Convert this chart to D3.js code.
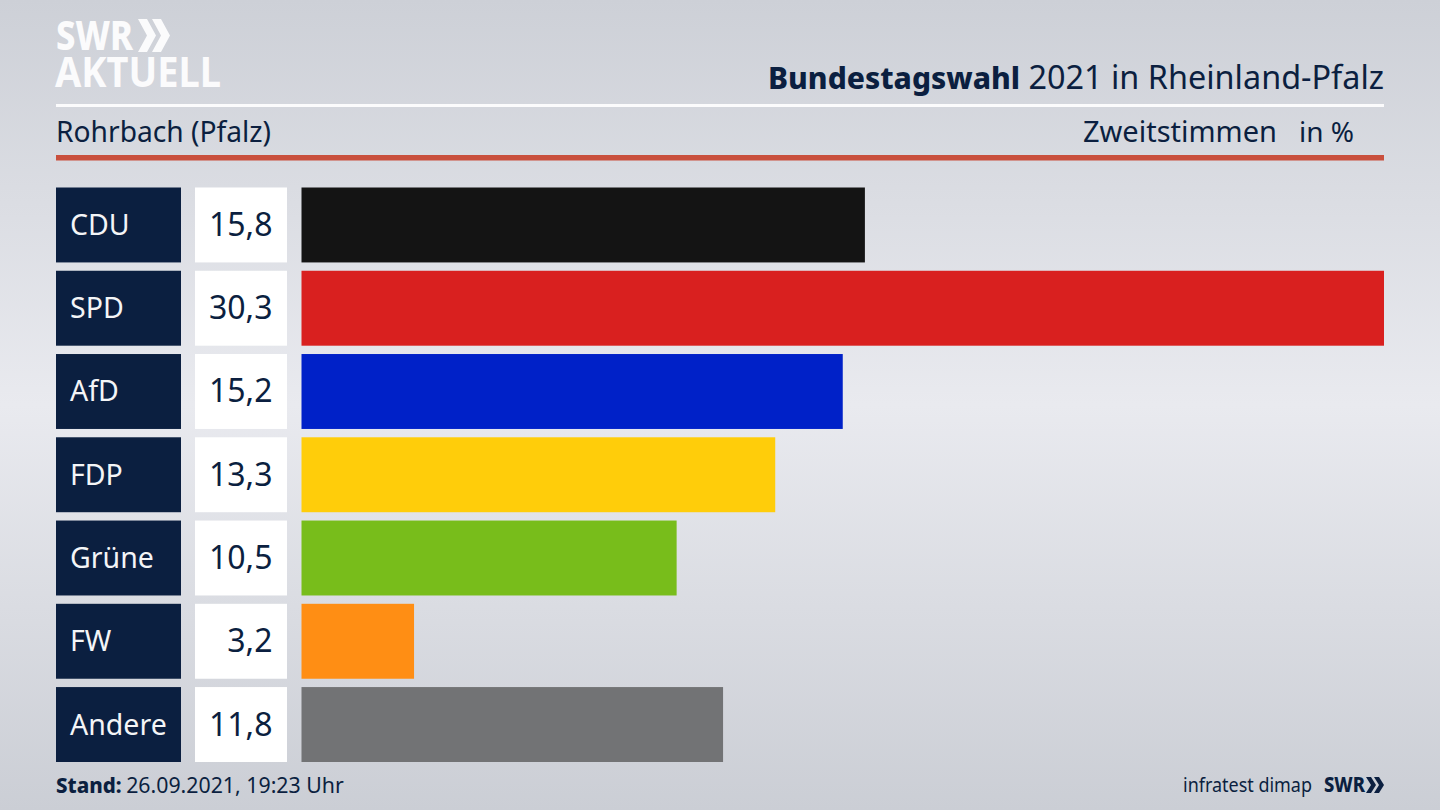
<!DOCTYPE html>
<html><head><meta charset="utf-8">
<script src="https://cdn.jsdelivr.net/npm/d3@7/dist/d3.min.js"></script>
<style>html,body{margin:0;padding:0;background:#dcdee3;overflow:hidden}svg{display:block}text{font-family:"Noto Sans",sans-serif}</style>
</head><body><svg id="c" width="1440" height="810"></svg>
<script>
const parties=["CDU","SPD","AfD","FDP","Grüne","FW","Andere"];
const values=[15.77,30.3,15.15,13.26,10.5,3.15,11.8];
const valueLabels=["15,8","30,3","15,2","13,3","10,5","3,2","11,8"];
const colors=["#141414","#d9201f","#0021c8","#ffcd0a","#78bd1b","#ff8e14","#727375"];
const navy="#0b1f40";
const svg=d3.select("#c");
const defs=svg.append("defs");
const g=defs.append("linearGradient").attr("id","bg").attr("x1",0).attr("y1",0).attr("x2",0).attr("y2",1);
[[0,"#cdd0d7"],[0.5,"#e9eaef"],[1,"#cbced5"]].forEach(s=>g.append("stop").attr("offset",s[0]).attr("stop-color",s[1]));
svg.append("rect").attr("width",1440).attr("height",810).attr("fill","url(#bg)");

const txt=(x,y,s,size,fill,anchor,weight)=>svg.append("text").attr("x",x).attr("y",y).attr("font-size",size).attr("fill",fill).attr("text-anchor",anchor||"start").attr("font-weight",weight||400).text(s);
const chev=(x,y,h,w,t,step,fill)=>{
  [0,1].forEach(i=>{const o=x+i*step;
    svg.append("path").attr("fill",fill).attr("d",`M${o} ${y}L${o+t} ${y}L${o+t+w} ${y+h/2}L${o+t} ${y+h}L${o} ${y+h}L${o+w} ${y+h/2}Z`);});
};
txt(56,50,"SWR",41,"#fbfbfc","start",800).attr("textLength",77).attr("lengthAdjust","spacingAndGlyphs");
chev(138,19,33,9,9,14,"#fbfbfc");
txt(55,87,"AKTUELL",42,"#fbfbfc","start",700).attr("textLength",166).attr("lengthAdjust","spacingAndGlyphs");

const title=svg.append("text").attr("x",1384).attr("y",89).attr("text-anchor","end").attr("font-size",32.4).attr("fill",navy);
title.append("tspan").attr("font-weight",800).attr("font-size",30).text("Bundestagswahl");
title.append("tspan").text(" 2021 in Rheinland-Pfalz");

svg.append("rect").attr("x",56).attr("y",104).attr("width",1328).attr("height",3).attr("fill","#fbfbfc");
svg.append("rect").attr("x",56).attr("y",155).attr("width",1328).attr("height",5.5).attr("fill","#c94f3d");
txt(56,142,"Rohrbach (Pfalz)",28.2,navy);
txt(1277,142,"Zweitstimmen",29,navy,"end");
txt(1354,142,"in %",28,navy,"end");

const x=d3.scaleLinear().domain([0,30.3]).range([301.5,1384]);
const y=d3.scaleBand().domain(parties).range([187.5,762]).paddingInner(0.1).paddingOuter(0);
const rows=svg.append("g").selectAll("g").data(parties).join("g");
rows.append("rect").attr("x",56).attr("y",d=>y(d)).attr("width",125).attr("height",y.bandwidth()).attr("fill",navy);
rows.append("rect").attr("x",195).attr("y",d=>y(d)).attr("width",92).attr("height",y.bandwidth()).attr("fill","#fff");
rows.append("rect").attr("x",x(0)).attr("y",d=>y(d)).attr("width",(d,i)=>x(values[i])-x(0)).attr("height",y.bandwidth()).attr("fill",(d,i)=>colors[i]);
rows.append("text").attr("x",70).attr("y",d=>y(d)+y.bandwidth()/2+10).attr("font-size",28.5).attr("fill","#f4f5f7").text(d=>d);
rows.append("text").attr("x",272.5).attr("y",d=>y(d)+y.bandwidth()/2+11).attr("text-anchor","end").attr("font-size",32).attr("fill",navy).text((d,i)=>valueLabels[i]);

const st=svg.append("text").attr("x",56).attr("y",793).attr("font-size",21.3).attr("fill",navy);
st.append("tspan").attr("font-weight",800).attr("font-size",20.5).text("Stand:");
st.append("tspan").attr("dx",-1).text(" 26.09.2021, 19:23 Uhr");
txt(1183,792,"infratest dimap",20,navy,"start").attr("textLength",129).attr("lengthAdjust","spacingAndGlyphs");
txt(1324,792,"SWR",21,navy,"start",800).attr("textLength",41).attr("lengthAdjust","spacingAndGlyphs");
chev(1366,777,16,5,5,8,navy);
</script></body></html>
